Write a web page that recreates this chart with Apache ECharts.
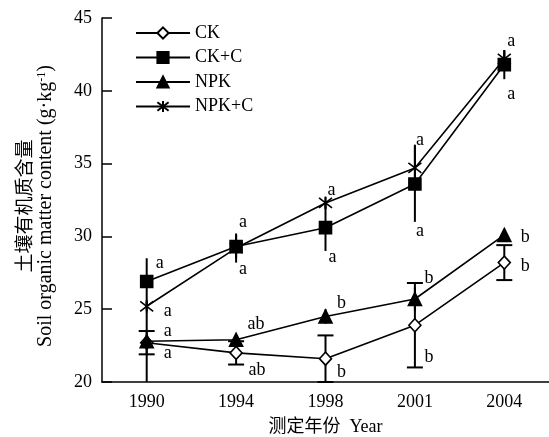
<!DOCTYPE html>
<html>
<head>
<meta charset="utf-8">
<script src="https://cdn.jsdelivr.net/npm/echarts@6/dist/echarts.min.js"></script>
<style>
html,body{margin:0;padding:0;background:#fff;}
#chart{width:549px;height:437px;}
</style>
</head>
<body>
<div id="chart"></div>
<script>
// ---- data ----
const years = ['1990', '1994', '1998', '2001', '2004'];
const seriesNames = ['CK', 'CK+C', 'NPK', 'NPK+C'];
const ck = [22.7, 22.0, 21.6, 23.9, 28.2];
const ckErr = [0.8, 0.8, 1.6, 2.9, 1.2];
const ckc = [26.9, 29.3, 30.6, 33.6, 41.8];
const ckcErr = [1.6, 0.8, 1.6, 2.6, 1.0];
const npk = [22.8, 22.9, 24.5, 25.7, 30.1];
const npkErr = [2.8, 0.2, 0.5, 0.8, 0.4];
const npkc = [25.2, 29.2, 32.3, 34.7, 42.2];
const npkcErr = [0.3, 1.0, 0.4, 1.6, 0.6];
const sigCK = ['a', 'ab', 'b', 'b', 'b'];
const sigCKC = ['a', 'a', 'a', 'a', 'a'];
const sigNPK = ['a', 'ab', 'b', 'b', 'b'];
const sigNPKC = ['a', 'a', 'a', 'a', 'a'];
const yTicks = [20, 25, 30, 35, 40, 45];

// ---- layout (pixel offsets of significance letters from their points) ----
const offCK = [[21, 11], [21, 17], [16, 14], [14, 32], [21, 4]];
const offCKC = [[13, -18], [7, -24], [7, 30], [5, 47], [7, 30]];
const offNPK = [[21, -10], [20, -16], [16, -13], [14, -21], [21, 2]];
const offNPKC = [[21, 5], [7, 21], [6, -13], [5, -28], [7, -18]];

const FONT = '"Liberation Serif", "Times New Roman", "Noto Sans CJK SC", serif';
const FS = 18;

function errSeries(vals, errs, caps) {
  return {
    type: 'custom', z: 1, silent: true,
    encode: { x: 0, y: 1 },
    data: vals.map((v, i) => [i, v, errs[i]]),
    renderItem: function (params, api) {
      const i = api.value(0), v = api.value(1), e = api.value(2);
      const t = api.coord([i, v + e]);
      const b = api.coord([i, v - e]);
      const ch = [{ type: 'line', shape: { x1: t[0], y1: t[1], x2: b[0], y2: b[1] }, style: { stroke: '#000', lineWidth: 2 } }];
      if (caps) {
        ch.push({ type: 'line', shape: { x1: t[0] - 8, y1: t[1], x2: t[0] + 8, y2: t[1] }, style: { stroke: '#000', lineWidth: 2 } });
        ch.push({ type: 'line', shape: { x1: b[0] - 8, y1: b[1], x2: b[0] + 8, y2: b[1] }, style: { stroke: '#000', lineWidth: 2 } });
      }
      return { type: 'group', children: ch };
    }
  };
}

function letterSeries(vals, sig, off) {
  return {
    type: 'custom', z: 5, silent: true,
    encode: { x: 0, y: 1 },
    data: vals.map((v, i) => [i, v]),
    renderItem: function (params, api) {
      const i = params.dataIndex;
      const p = api.coord([api.value(0), api.value(1)]);
      return {
        type: 'text',
        x: p[0] + off[i][0], y: p[1] + off[i][1],
        style: { text: sig[i], fill: '#000', font: FS + 'px ' + FONT, align: 'center', verticalAlign: 'middle' }
      };
    }
  };
}

function lineSeries(name, vals, symbol, size, fill) {
  return {
    name: name, type: 'line', z: 3, data: vals,
    symbol: symbol, symbolSize: size, showSymbol: true,
    lineStyle: { color: '#000', width: 1.6 },
    itemStyle: { color: fill, borderColor: '#000', borderWidth: 1.6 },
    emphasis: { disabled: true }
  };
}

const chart = echarts.init(document.getElementById('chart'), null, { renderer: 'canvas' });
chart.setOption({
  animation: false,
  backgroundColor: '#fff',
  textStyle: { fontFamily: FONT },
  grid: { left: 102, right: 0, top: 18, bottom: 55, containLabel: false, outerBoundsMode: 'none' },
  legend: {
    orient: 'vertical', left: 130, top: 19,
    itemWidth: 54, itemHeight: 14, itemGap: 6.5,
    data: seriesNames,
    textStyle: { fontFamily: FONT, fontSize: FS, color: '#000', lineHeight: 18 }
  },
  xAxis: {
    type: 'category', data: years, boundaryGap: true,
    axisLine: { lineStyle: { color: '#000', width: 1.5 } },
    axisTick: { inside: true, alignWithLabel: true, length: 10, lineStyle: { color: '#000', width: 1.5 } },
    axisLabel: { color: '#000', fontFamily: FONT, fontSize: FS, margin: 11 },
    name: '测定年份  Year', nameLocation: 'middle', nameGap: 36,
    nameTextStyle: { color: '#000', fontFamily: FONT, fontSize: FS }
  },
  yAxis: {
    type: 'value', min: yTicks[0], max: yTicks[yTicks.length - 1], interval: 5,
    axisLine: { show: true, lineStyle: { color: '#000', width: 1.5 } },
    axisTick: { show: true, inside: true, length: 10, lineStyle: { color: '#000', width: 1.5 } },
    splitLine: { show: false },
    axisLabel: { color: '#000', fontFamily: FONT, fontSize: FS, margin: 10 },
    name: '{cn|土壤有机质含量}\n{en|Soil organic matter content (g·kg}{sup|-1}{en|)}',
    nameLocation: 'middle', nameGap: 46, nameRotate: 90,
    nameTextStyle: {
      color: '#000', fontFamily: FONT, fontSize: 20, lineHeight: 20,
      padding: [0, 12, 0, 0],
      rich: {
        cn: { fontSize: 19, lineHeight: 20, fontFamily: FONT, color: '#000' },
        en: { fontSize: 20, lineHeight: 20, fontFamily: FONT, color: '#000' },
        sup: { fontSize: 12, verticalAlign: 'top', lineHeight: 12, fontFamily: FONT, color: '#000' }
      }
    }
  },
  series: [
    errSeries(ck, ckErr, true),
    errSeries(ckc, ckcErr, false),
    errSeries(npk, npkErr, false),
    errSeries(npkc, npkcErr, false),
    lineSeries('CK', ck, 'diamond', [12, 13], '#fff'),
    lineSeries('CK+C', ckc, 'rect', 12, '#000'),
    lineSeries('NPK', npk, 'triangle', 13, '#000'),
    lineSeries('NPK+C', npkc, 'path://M0,0L10,10M10,0L0,10M5,-1.5L5,11.5', 13, '#000'),
    letterSeries(ck, sigCK, offCK),
    letterSeries(ckc, sigCKC, offCKC),
    letterSeries(npk, sigNPK, offNPK),
    letterSeries(npkc, sigNPKC, offNPKC)
  ]
});
</script>
</body>
</html>
